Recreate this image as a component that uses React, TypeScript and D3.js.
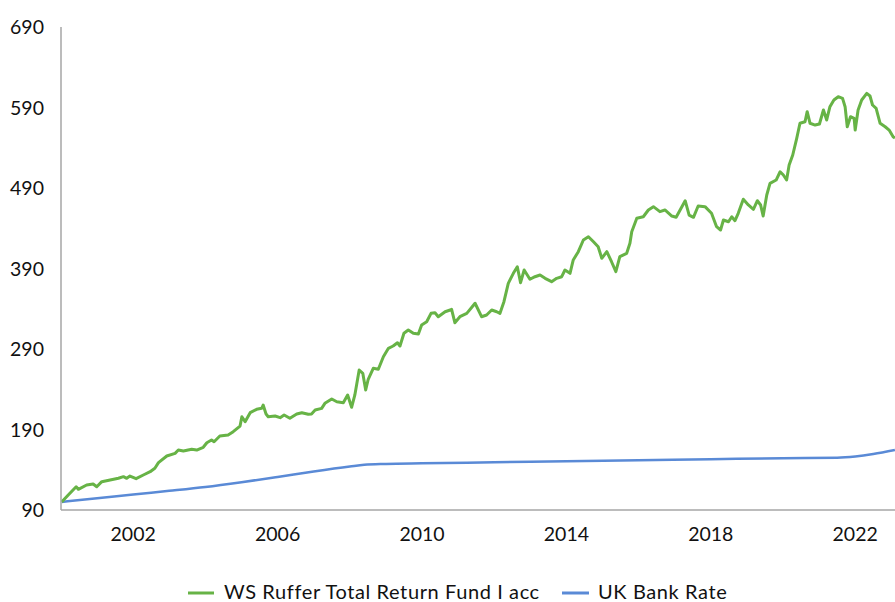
import React from "react";
import * as d3 from "d3";

const yTicks = [90, 190, 290, 390, 490, 590, 690];
const xTicks = [2002, 2006, 2010, 2014, 2018, 2022];
const seriesNames = ["WS Ruffer Total Return Fund I acc", "UK Bank Rate"];

const fundYears = [
  2000.02, 2000.2, 2000.42, 2000.48, 2000.71, 2000.89, 2000.99, 2001.13, 2001.36, 2001.59,
  2001.73, 2001.82, 2001.91, 2002.08, 2002.28, 2002.47, 2002.6, 2002.7, 2002.93, 2003.16,
  2003.25, 2003.39, 2003.62, 2003.76, 2003.94, 2004.04, 2004.17, 2004.24, 2004.4, 2004.63,
  2004.77, 2004.96, 2005.01, 2005.1, 2005.24, 2005.42, 2005.56, 2005.6, 2005.68, 2005.74,
  2005.93, 2006.07, 2006.18, 2006.34, 2006.53, 2006.67, 2006.85, 2006.94, 2007.04, 2007.22,
  2007.31, 2007.5, 2007.64, 2007.82, 2007.94, 2008.05, 2008.14, 2008.26, 2008.36, 2008.44,
  2008.51, 2008.65, 2008.79, 2008.93, 2009.07, 2009.2, 2009.32, 2009.39, 2009.5, 2009.62,
  2009.76, 2009.9, 2009.99, 2010.13, 2010.25, 2010.36, 2010.45, 2010.64, 2010.78, 2010.82,
  2010.91, 2011.05, 2011.24, 2011.38, 2011.47, 2011.65, 2011.79, 2011.93, 2012.07, 2012.16,
  2012.27, 2012.39, 2012.53, 2012.64, 2012.73, 2012.83, 2012.99, 2013.13, 2013.27, 2013.41,
  2013.59, 2013.73, 2013.87, 2013.96, 2014.1, 2014.19, 2014.33, 2014.47, 2014.61, 2014.75,
  2014.88, 2014.98, 2015.12, 2015.25, 2015.37, 2015.48, 2015.67, 2015.76, 2015.81, 2015.95,
  2016.13, 2016.27, 2016.41, 2016.59, 2016.73, 2016.92, 2017.04, 2017.15, 2017.29, 2017.4,
  2017.52, 2017.65, 2017.84, 2018.02, 2018.16, 2018.27, 2018.35, 2018.49, 2018.58, 2018.67,
  2018.76, 2018.9, 2019.04, 2019.18, 2019.29, 2019.38, 2019.45, 2019.55, 2019.64, 2019.81,
  2019.92, 2020.01, 2020.1, 2020.17, 2020.27, 2020.38, 2020.47, 2020.61, 2020.67, 2020.75,
  2020.89, 2021.01, 2021.12, 2021.21, 2021.3, 2021.41, 2021.53, 2021.65, 2021.72, 2021.78,
  2021.87, 2021.97, 2022.0, 2022.08, 2022.18, 2022.32, 2022.41, 2022.48, 2022.58, 2022.69,
  2022.83, 2022.94, 2023.05, 2023.1,
];

const fundValues = [
  100, 108.6, 118.9, 115.7, 121.1, 122.3, 118.9, 125.2, 127.3, 129.4,
  131.4, 129.4, 132.2, 128.9, 133.5, 137.6, 141.8, 148.8, 157.1, 160.4,
  164.5, 163.3, 165.4, 164.5, 167.9, 173.6, 177, 174.8, 181.9, 183.2,
  187.3, 194.3, 205.9, 199.7, 210.9, 215.1, 216.3, 220.4, 209.3, 205.9,
  206.8, 204.7, 208, 203.9, 209.3, 210.9, 208.9, 209.3, 214.2, 216.3,
  222.5, 227.9, 224.5, 223.3, 232.9, 217.6, 232.9, 263.9, 259.8, 239.1,
  252.4, 266, 264.8, 280.4, 290.9, 293.7, 297.8, 293.7, 309.5, 313.6,
  309.5, 308.6, 319.8, 323.9, 334.3, 335.1, 330.1, 336.3, 338.4, 339.3,
  322.7, 330.1, 334.3, 341.8, 346.8, 330.1, 332.2, 338.4, 336.3, 334.3,
  348.8, 371.6, 384, 392.2, 372.4, 388.1, 376.6, 379.8, 381.9, 377.8,
  373.6, 377.8, 379.8, 388.1, 384, 400.6, 410.9, 425.4, 429.5, 423.3,
  417.1, 402.7, 410.9, 398.4, 386, 404.7, 408.9, 421.3, 435.7, 452.4,
  454.3, 462.7, 466.8, 460.6, 462.7, 455.2, 453.6, 462.7, 474.2, 456.4,
  453.6, 467.6, 466.8, 458.6, 441.9, 437.8, 450.2, 448.1, 454.3, 449.4,
  458.6, 476, 468.9, 463.5, 474.2, 468.9, 455.2, 481.3, 495.8, 499.9,
  510.2, 506.1, 499.9, 518.6, 531, 551.7, 570.4, 572.3, 584.8, 570.4,
  568.2, 569.5, 586.9, 574.5, 591, 599.3, 603.4, 601.4, 591, 566.1,
  578.6, 576.6, 562, 586.9, 599.3, 607.6, 604.3, 593.1, 589, 570.4,
  566.1, 562, 553.7, 552.1,
];

const rateYears = [
  2000.02, 2001, 2002, 2003, 2004, 2005, 2006, 2007, 2008, 2008.4, 2009, 2010, 2012, 2014,
  2016, 2018, 2020, 2021.5, 2022, 2022.5, 2023.1,
];
const rateValues = [
  100, 104.5, 109.3, 113.8, 118.6, 124.5, 131, 137.8, 144, 146.2, 147.2, 148, 149.3, 150.5,
  151.8, 153, 154.4, 155, 156.5, 159.5, 164.5,
];

const GREEN = "#67b346";
const BLUE = "#5a8ad6";
const AXIS = "#a6a6a6";
const FONT = "Lato, 'Noto Sans', sans-serif";

export default function App() {
  const W = 895;
  const H = 602;
  const left = 61;
  const right = 895;
  const top = 27;
  const bottom = 510;

  const x = d3.scaleLinear().domain([2000, 2000 + (right - left) / 36.1]).range([left, right]);
  const y = d3.scaleLinear().domain([90, 690]).range([bottom, top]);

  const fund = fundYears.map((t, i) => [t, fundValues[i]] as [number, number]);
  const rate = rateYears.map((t, i) => [t, rateValues[i]] as [number, number]);

  const line = d3
    .line<[number, number]>()
    .x((d) => x(d[0]))
    .y((d) => y(d[1]));
  const smooth = d3
    .line<[number, number]>()
    .x((d) => x(d[0]))
    .y((d) => y(d[1]))
    .curve(d3.curveMonotoneX);

  return (
    <svg
      width={W}
      height={H}
      style={{ position: "absolute", left: 0, top: 0, background: "#fff" }}
      fontFamily={FONT}
    >
      <defs>
        <clipPath id="plot">
          <rect x={left} y={0} width={right - left} height={bottom} />
        </clipPath>
      </defs>
      {yTicks.map((t) => (
        <text key={t} x={44} y={y(t)} dy="0.36em" textAnchor="end" fontSize={19.5} fill="#111">
          {t}
        </text>
      ))}
      {xTicks.map((t) => (
        <text key={t} x={x(t)} y={541} textAnchor="middle" fontSize={19.5} fill="#111">
          {t}
        </text>
      ))}
      <g clipPath="url(#plot)">
        <path d={smooth(rate) || ""} fill="none" stroke={BLUE} strokeWidth={2.5} />
        <path d={line(fund) || ""} fill="none" stroke={GREEN} strokeWidth={3} strokeLinejoin="round" />
      </g>
      <line x1={left} x2={left} y1={top} y2={bottom} stroke={AXIS} strokeWidth={1.5} />
      <line x1={left} x2={right} y1={bottom} y2={bottom} stroke={AXIS} strokeWidth={1.5} />
      <g>
        <line x1={188} x2={214} y1={593} y2={593} stroke={GREEN} strokeWidth={3} />
        <text x={224} y={599} fontSize={20} letterSpacing={0.6} fill="#111">
          {seriesNames[0]}
        </text>
        <line x1={562} x2={589} y1={593} y2={593} stroke={BLUE} strokeWidth={3} />
        <text x={598} y={599} fontSize={20} letterSpacing={0.6} fill="#111">
          {seriesNames[1]}
        </text>
      </g>
    </svg>
  );
}
